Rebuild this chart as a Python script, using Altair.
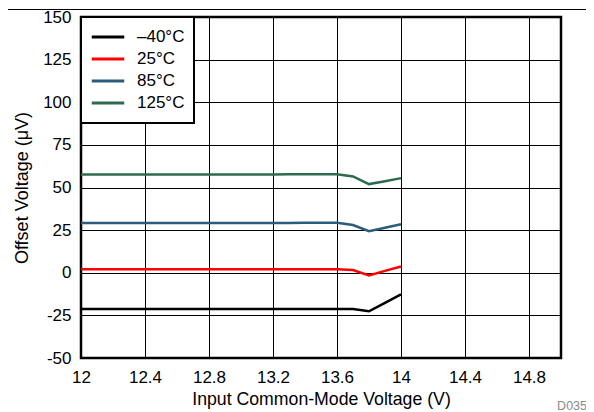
import altair as alt
import pandas as pd

# Input common-mode voltage (V)
vcm = [12.0, 12.1, 12.2, 12.3, 12.4, 12.5, 12.6, 12.7, 12.8, 12.9, 13.0,
       13.1, 13.2, 13.3, 13.4, 13.5, 13.6, 13.7, 13.8, 13.9, 14.0]

# Offset voltage (uV) per temperature
vos_m40 = [-21.3, -21.3, -21.3, -21.3, -21.3, -21.3, -21.3, -21.3, -21.3, -21.3, -21.3,
           -21.3, -21.3, -21.3, -21.3, -21.3, -21.3, -21.3, -22.6, -17.7, -12.7]
vos_25 = [2.0, 2.0, 2.0, 2.0, 2.0, 2.0, 2.0, 2.0, 2.0, 2.0, 2.0,
          2.0, 2.0, 2.0, 2.0, 2.0, 2.0, 1.6, -1.6, 1.1, 3.7]
vos_85 = [29.2, 29.2, 29.2, 29.2, 29.2, 29.2, 29.2, 29.2, 29.2, 29.2, 29.2,
          29.2, 29.2, 29.2, 29.3, 29.3, 29.3, 28.0, 24.4, 26.4, 28.5]
vos_125 = [57.6, 57.6, 57.6, 57.6, 57.6, 57.6, 57.6, 57.6, 57.6, 57.6, 57.6,
           57.6, 57.6, 57.7, 57.7, 57.8, 57.8, 56.5, 52.0, 53.7, 55.5]

series = ["\u201340\u00b0C", "25\u00b0C", "85\u00b0C", "125\u00b0C"]
colors = ["#000000", "#FF0000", "#2B5C7D", "#2E6B4C"]

x_ticks = [12, 12.4, 12.8, 13.2, 13.6, 14, 14.4, 14.8]
y_ticks = [-50, -25, 0, 25, 50, 75, 100, 125, 150]

rows = []
for name, vals in zip(series, [vos_m40, vos_25, vos_85, vos_125]):
    for xv, yv in zip(vcm, vals):
        rows.append({"vcm": xv, "vos": yv, "temp": name})
df = pd.DataFrame(rows)

font = "Liberation Sans"

lines = alt.Chart(df).mark_line(strokeWidth=2.5).encode(
    x=alt.X(
        "vcm:Q",
        scale=alt.Scale(domain=[12, 15], nice=False, zero=False),
        axis=alt.Axis(
            values=x_ticks, labelExpr="format(datum.value, '~g')",
            title="Input Common-Mode Voltage (V)",
            grid=True, gridColor="black", gridWidth=1, gridOpacity=1,
            ticks=False, domain=False, labelFlush=False, labelOverlap=False,
            labelFont=font, labelFontSize=17, labelColor="black", labelPadding=11.5,
            titleFont=font, titleFontSize=17.7, titleColor="black",
            titleFontWeight="normal", titlePadding=4.5,
        ),
    ),
    y=alt.Y(
        "vos:Q",
        scale=alt.Scale(domain=[-50, 150], nice=False, zero=False),
        axis=alt.Axis(
            values=y_ticks, labelExpr="'' + datum.value",
            title="Offset Voltage (\u03bcV)",
            grid=True, gridColor="black", gridWidth=1, gridOpacity=1,
            ticks=False, domain=False, labelFlush=False,
            labelFont=font, labelFontSize=17, labelColor="black", labelPadding=10,
            titleFont=font, titleFontSize=18, titleColor="black",
            titleFontWeight="normal", titlePadding=11.5,
        ),
    ),
    color=alt.Color(
        "temp:N",
        scale=alt.Scale(domain=series, range=colors),
        legend=alt.Legend(
            title=None, orient="top-left", offset=0,
            symbolType="stroke", symbolSize=1056, symbolStrokeWidth=3,
            clipHeight=22, rowPadding=-2,
            labelFont=font, labelFontSize=17, labelColor="black",
            labelOffset=11, padding=9, strokeColor="black", fillColor="white",
        ),
    ),
)

top_line = alt.Chart(pd.DataFrame({"a": [0]})).mark_rule(
    color="black", strokeWidth=1.2
).encode(x=alt.value(-73), x2=alt.value(505), y=alt.value(-7.5))

tag = alt.Chart(pd.DataFrame({"t": ["D035"]})).mark_text(
    align="right", baseline="middle", fontSize=12.5, font=font, color="#8a8a8a"
).encode(text="t:N", x=alt.value(506), y=alt.value(389))

chart = alt.layer(lines, top_line, tag).properties(
    width=480, height=341,
    padding={"left": 73, "top": 9, "right": 25, "bottom": 55},
    autosize=alt.AutoSizeParams(type="none"),
).configure_view(stroke="black", strokeWidth=2.5).configure_legend(strokeWidth=2)

chart.save("out.html", embed_options={"renderer": "svg", "actions": False})
